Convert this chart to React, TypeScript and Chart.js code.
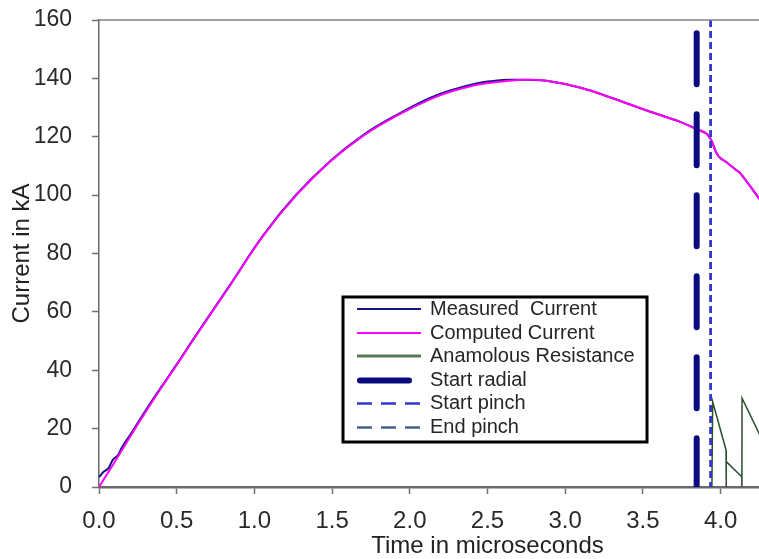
import React, { useEffect, useRef } from "react";
import { Chart, registerables } from "chart.js";

Chart.register(...registerables);

// ---- data (time in microseconds, current in kA) ----
const computedTime = [0, 0.1, 0.2, 0.3, 0.4, 0.5, 0.62, 0.84, 1.06, 1.27, 1.49, 1.7, 1.92, 2.13, 2.26, 2.45, 2.66, 2.75, 2.88, 3.1, 3.31, 3.52, 3.74, 3.835, 3.92, 3.975, 4.0, 4.04, 4.1, 4.125, 4.26];
const computedCurrent = [0, 8.5, 17.2, 25.7, 33.9, 41.8, 51.5, 68.8, 86.3, 100, 111.6, 120.3, 127.3, 132.8, 135.4, 138, 139.3, 139.5, 139.2, 136.8, 133.1, 129.1, 125.1, 122.8, 120.5, 114.3, 112.6, 111.2, 108.6, 107.6, 98];

const measuredTime = [0, 0.03, 0.06, 0.09, 0.12, 0.15, 0.2, 0.3, 0.4, 0.5, 0.62, 0.84, 1.06, 1.27, 1.49, 1.7, 1.92, 2.13, 2.26, 2.45, 2.55, 2.66, 2.75, 2.88, 3.1, 3.31, 3.52, 3.74, 3.835, 3.92, 3.975, 4.0, 4.04, 4.1, 4.125, 4.26];
const measuredCurrent = [3.4, 5.2, 6.4, 9.4, 10.8, 13.8, 17.8, 26.2, 34.2, 42, 51.7, 69, 86.5, 100.2, 111.8, 120.6, 127.6, 133.3, 135.9, 138.5, 139.2, 139.5, 139.5, 139.2, 136.8, 133.1, 129.1, 125.1, 122.8, 120.5, 114.3, 112.6, 111.2, 108.6, 107.6, 98];

const resistanceTime = [3.944, 3.949, 4.035, 4.036, 4.037, 4.136, 4.137, 4.138, 4.26];
const anomalousResistance = [0, 29.2, 12.7, 0, 8.7, 3.5, 0, 30.4, 17];

const startRadialTime = [3.846, 3.846];
const startRadialLevel = [155.5, 0];
const startPinchTime = [3.936, 3.936];
const endPinchTime = [3.936, 3.936];
const pinchLevel = [160, 0];

const legendLabels = ["Measured  Current", "Computed Current", "Anamolous Resistance", "Start radial", "Start pinch", "End pinch"];

const xMin = 0;
const xMax = 5;
const xStep = 0.5;
const yMin = 0;
const yMax = 160;
const yStep = 20;

const xTitle = "Time in microseconds";
const yTitle = "Current in kA";

const FONT = "'Liberation Sans', Arial, sans-serif";

const toPoints = (xs: number[], ys: number[]) => xs.map((x, i) => ({ x, y: ys[i] }));

const COLORS = {
  measured: "#14147e",
  computed: "#ff00ff",
  resistance: "#2a4f2a",
  radial: "#0a0a80",
  startPinch: "#3434d0",
  endPinch: "#46608c",
};

const overlayPlugin = {
  id: "overlay",
  afterDraw(chart: any) {
    const { ctx, chartArea } = chart;
    ctx.save();
    // top frame line
    ctx.strokeStyle = "#808080";
    ctx.lineWidth = 1.5;
    ctx.beginPath();
    ctx.moveTo(chartArea.left, chartArea.top);
    ctx.lineTo(chartArea.right, chartArea.top);
    ctx.stroke();

    // legend box
    const bx = 343, by = 297, bw = 304, bh = 145;
    ctx.fillStyle = "#ffffff";
    ctx.fillRect(bx, by, bw, bh);
    ctx.strokeStyle = "#000000";
    ctx.lineWidth = 3;
    ctx.strokeRect(bx, by, bw, bh);

    const items = [
      { color: COLORS.measured, width: 2, dash: [] as number[], cap: "butt", x1: 357, x2: 421 },
      { color: COLORS.computed, width: 2, dash: [], cap: "butt", x1: 357, x2: 421 },
      { color: "#557a55", width: 3, dash: [], cap: "butt", x1: 357, x2: 421 },
      { color: COLORS.radial, width: 6, dash: [], cap: "round", x1: 360, x2: 409 },
      { color: COLORS.startPinch, width: 2.5, dash: [15, 9], cap: "butt", x1: 357, x2: 421 },
      { color: COLORS.endPinch, width: 2.5, dash: [15, 9], cap: "butt", x1: 357, x2: 421 },
    ];
    const rowY = [309, 333, 356, 380.5, 403.5, 427.5];
    ctx.font = `20px ${FONT}`;
    ctx.textBaseline = "middle";
    ctx.textAlign = "left";
    items.forEach((it, i) => {
      ctx.strokeStyle = it.color;
      ctx.lineWidth = it.width;
      ctx.lineCap = it.cap;
      ctx.setLineDash(it.dash);
      ctx.beginPath();
      ctx.moveTo(it.x1, rowY[i]);
      ctx.lineTo(it.x2, rowY[i]);
      ctx.stroke();
      ctx.setLineDash([]);
      ctx.fillStyle = "#262626";
      ctx.fillText(legendLabels[i], 430, rowY[i]);
    });
    ctx.restore();
  },
};

export default function App() {
  const canvasRef = useRef<HTMLCanvasElement | null>(null);

  useEffect(() => {
    const canvas = canvasRef.current;
    if (!canvas) return;
    Chart.defaults.font.family = FONT;

    const chart = new Chart(canvas, {
      type: "line",
      data: {
        datasets: [
          {
            label: legendLabels[3],
            data: toPoints(startRadialTime, startRadialLevel),
            borderColor: COLORS.radial,
            borderWidth: 6,
            borderDash: [51, 30],
            borderCapStyle: "round",
            pointRadius: 0,
            order: 0,
          },
          {
            label: legendLabels[4],
            data: toPoints(startPinchTime, pinchLevel),
            borderColor: COLORS.startPinch,
            borderWidth: 2.5,
            borderDash: [7, 4],
            pointRadius: 0,
            order: 1,
          },
          {
            label: legendLabels[5],
            data: toPoints(endPinchTime, pinchLevel),
            borderColor: COLORS.endPinch,
            borderWidth: 2.5,
            borderDash: [7, 4],
            pointRadius: 0,
            order: 2,
          },
          {
            label: legendLabels[2],
            data: toPoints(resistanceTime, anomalousResistance),
            borderColor: COLORS.resistance,
            borderWidth: 1.5,
            pointRadius: 0,
            tension: 0,
            order: 3,
          },
          {
            label: legendLabels[1],
            data: toPoints(computedTime, computedCurrent),
            borderColor: COLORS.computed,
            borderWidth: 2,
            pointRadius: 0,
            tension: 0.4,
            order: 4,
          },
          {
            label: legendLabels[0],
            data: toPoints(measuredTime, measuredCurrent),
            borderColor: COLORS.measured,
            borderWidth: 2,
            pointRadius: 0,
            tension: 0.4,
            order: 5,
          },
        ],
      },
      options: {
        responsive: false,
        animation: false,
        devicePixelRatio: 1,
        layout: { padding: { top: 20, right: 24, left: 0, bottom: 0 } },
        plugins: {
          legend: { display: false },
          tooltip: { enabled: false },
        },
        scales: {
          x: {
            type: "linear",
            min: xMin,
            max: xMax,
            afterFit: (s: any) => {
              s.height = 72;
              s.paddingLeft = 0;
              s.paddingRight = 0;
            },
            ticks: {
              stepSize: xStep,
              autoSkip: false,
              maxRotation: 0,
              padding: 13,
              color: "#2a2a2a",
              font: { size: 24 },
              callback: (v: any) => Number(v).toFixed(1),
            },
            grid: {
              display: true,
              drawOnChartArea: false,
              drawTicks: true,
              tickLength: 7,
              tickWidth: 1.5,
              tickColor: "#707070",
            },
            border: { display: true, color: "#6a6a6a", width: 2.5 },
            title: {
              display: true,
              text: xTitle,
              color: "#222222",
              font: { size: 24 },
              padding: { top: 0, bottom: -2 },
            },
          },
          y: {
            type: "linear",
            min: yMin,
            max: yMax,
            afterFit: (s: any) => {
              s.width = 99;
              s.paddingTop = 0;
              s.paddingBottom = 0;
            },
            ticks: {
              stepSize: yStep,
              padding: 20,
              color: "#2a2a2a",
              font: { size: 23 },
            },
            grid: {
              display: true,
              drawOnChartArea: false,
              drawTicks: true,
              tickLength: 7,
              tickWidth: 1.5,
              tickColor: "#707070",
            },
            border: { display: true, color: "#6a6a6a", width: 1.5 },
            title: {
              display: true,
              text: yTitle,
              color: "#222222",
              font: { size: 24 },
              padding: { top: 7.5, bottom: 0 },
            },
          },
        },
      },
      plugins: [overlayPlugin],
    } as any);

    return () => chart.destroy();
  }, []);

  return (
    <div
      style={{
        position: "fixed",
        left: 0,
        top: 0,
        width: 759,
        height: 559,
        overflow: "hidden",
        background: "#ffffff",
      }}
    >
      <canvas ref={canvasRef} width={900} height={559} style={{ display: "block", width: 900, height: 559 }} />
    </div>
  );
}
